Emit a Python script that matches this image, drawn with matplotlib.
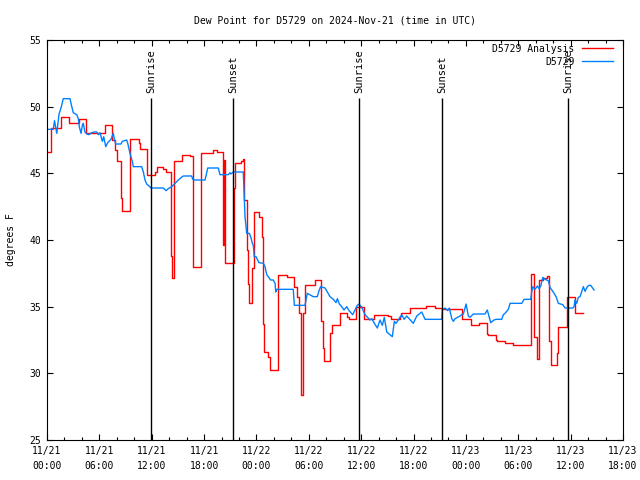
import numpy as np
import matplotlib
matplotlib.use("Agg")
import matplotlib.pyplot as plt
from matplotlib.ticker import MultipleLocator

# hours since 2024-11-21 00:00 UTC
analysis_hours = [0.0, 0.42, 1.60, 2.52, 3.70, 4.43, 6.65, 7.41, 7.79, 8.02, 8.48, 8.63,
                  9.51, 10.58, 10.69, 11.46, 12.38, 12.60, 13.33, 13.64, 14.17, 14.32,
                  14.55, 15.44, 16.39, 16.76, 17.61, 18.99, 19.45, 20.11, 20.28, 20.45,
                  21.37, 21.54, 22.20, 22.43, 22.63, 22.88, 23.07, 23.18, 23.49, 23.72,
                  24.33, 24.60, 24.79, 24.90, 25.36, 25.55, 26.47, 27.54, 28.34, 28.61,
                  28.88, 29.05, 29.11, 29.37, 29.56, 30.71, 31.40, 31.63, 31.74, 32.43,
                  32.62, 33.57, 34.41, 34.64, 35.41, 36.38, 37.47, 39.11, 39.42, 40.45,
                  40.57, 41.60, 43.43, 44.46, 45.26, 47.56, 48.59, 49.50, 50.39, 50.57,
                  51.45, 51.60, 52.48, 53.43, 55.41, 55.81, 56.12, 56.38, 56.84, 57.26,
                  57.56, 57.75, 58.41, 58.59, 59.62, 60.50, 61.39]
analysis_dew = [46.6, 48.4, 49.2, 48.8, 49.05, 48.0, 48.6, 47.5, 46.75, 45.9, 43.15, 42.2,
                47.55, 47.25, 46.8, 44.9, 45.1, 45.45, 45.3, 45.1, 38.8, 37.15,
                45.95, 46.4, 46.3, 38.0, 46.5, 46.75, 46.6, 39.6, 46.0, 38.25,
                43.9, 45.8, 45.9, 46.1, 43.0, 39.25, 36.7, 35.3, 37.9, 42.1,
                41.75, 40.25, 33.7, 31.6, 31.25, 30.25, 37.4, 37.25, 36.5, 35.75,
                34.5, 30.5, 28.4, 34.5, 36.6, 37.0, 33.9, 31.9, 30.9, 33.0,
                33.6, 34.5, 34.25, 34.1, 35.0, 34.05, 34.4, 34.3, 34.05, 34.3,
                34.55, 34.9, 35.05, 34.9, 34.8, 34.05, 33.6, 33.8, 32.95, 32.9,
                32.5, 32.45, 32.3, 32.1, 37.45, 32.75, 31.1, 37.0, 37.15, 37.3,
                32.4, 30.6, 31.5, 33.45, 35.7, 34.55, 34.55]

obs_hours = [0.0, 0.72, 0.86, 1.12, 1.38, 1.60, 1.87, 2.64, 2.75, 3.01, 3.40, 3.59, 3.70,
             3.90, 4.05, 4.16, 4.35, 4.55, 4.81, 5.12, 5.42, 5.70, 5.88, 6.07, 6.34, 6.50,
             6.73, 6.96, 7.33, 7.60, 7.71, 7.87, 8.48, 8.63, 9.13, 9.25, 9.51, 9.77, 9.89,
             10.85, 11.04, 11.23, 11.42, 11.69, 11.92, 13.33, 13.64, 13.90, 14.29, 14.67,
             15.05, 15.50, 15.62, 16.58, 16.70, 16.96, 18.11, 18.42, 19.63, 19.82, 20.78,
             20.97, 21.08, 21.35, 22.49, 22.69, 22.88, 23.18, 23.34, 23.53, 23.64, 23.75,
             23.95, 24.29, 24.79, 24.98, 25.18, 25.63, 25.93, 26.13, 26.21, 26.32, 28.22,
             28.34, 29.56, 29.83, 30.51, 30.97, 31.20, 31.36, 31.86, 32.12, 32.43, 32.81,
             33.12, 33.27, 33.50, 33.77, 34.03, 34.34, 34.61, 35.03, 35.56, 35.75, 36.06,
             36.44, 37.01, 37.21, 37.51, 37.85, 38.16, 38.42, 38.65, 38.93, 39.57, 39.80,
             39.99, 40.65, 40.91, 41.22, 41.97, 42.37, 42.94, 43.32, 45.23, 45.30, 45.61,
             45.92, 46.10, 46.38, 46.56, 46.76, 47.33, 47.52, 47.71, 48.02, 48.28, 48.47,
             48.85, 50.19, 50.45, 50.57, 50.84, 51.22, 51.45, 52.10, 52.29, 52.48, 52.86,
             53.06, 54.40, 54.58, 54.66, 55.43, 55.54, 55.66, 55.92, 56.19, 56.38, 56.58,
             56.81, 57.07, 57.45, 57.64, 58.10, 58.33, 58.59, 59.10, 59.36, 60.24, 60.39,
             60.50, 60.70, 60.88, 61.08, 61.46, 61.65, 61.92, 62.11, 62.30, 62.68]
obs_dew = [48.3, 48.3, 48.95, 48.0, 49.45, 49.9, 50.6, 50.6, 50.25, 49.55, 49.4, 49.1, 48.5,
           48.0, 48.6, 48.75, 48.1, 47.95, 47.9, 48.05, 48.1, 48.1, 47.9, 48.05, 47.4, 47.75,
           47.0, 47.3, 47.55, 48.0, 47.6, 47.2, 47.2, 47.4, 47.5, 47.25, 46.5, 45.9, 45.5,
           45.5, 45.1, 44.5, 44.2, 44.05, 43.9, 43.9, 43.7, 43.85, 44.0, 44.25,
           44.5, 44.75, 44.8, 44.8, 44.55, 44.5, 44.5, 45.4, 45.4, 44.9, 44.9,
           45.05, 44.95, 45.1, 45.1, 41.75, 40.5, 40.5, 40.25, 39.75, 39.6, 38.75,
           38.75, 38.3, 38.25, 38.0, 37.4, 37.0, 37.0, 36.75, 36.1, 36.3, 36.3,
           35.1, 35.1, 36.0, 35.75, 35.75, 36.25, 36.5, 36.4, 36.1, 35.75, 35.55,
           35.3, 35.6, 35.2, 35.0, 34.75, 35.0, 34.7, 34.4, 35.1, 35.2, 34.95,
           34.4, 34.0, 34.1, 33.75, 33.4, 34.0, 33.6, 34.2, 33.1, 32.75, 33.9,
           33.75, 34.4, 34.05, 34.3, 33.75, 34.3, 34.6, 34.05, 34.05, 34.75, 34.9,
           34.7, 34.9, 34.1, 33.9, 34.1, 34.3, 34.4, 34.45, 35.2, 34.3, 34.2,
           34.45, 34.45, 34.75, 34.45, 33.8, 34.0, 34.05, 34.05, 34.4, 34.5, 34.8,
           35.25, 35.25, 35.45, 35.55, 35.55, 36.1, 36.5, 36.3, 36.55, 36.35, 36.55,
           37.2, 37.05, 36.95, 36.45, 36.0, 35.75, 35.25, 35.15, 34.9, 34.9, 35.0,
           35.5, 35.25, 35.7, 35.75, 36.5, 36.15, 36.5, 36.6, 36.6, 36.25]

sun_hours = [11.92, 21.31, 35.75, 45.26, 59.70]
sun_labels = ["Sunrise", "Sunset", "Sunrise", "Sunset", "Sunrise"]

tick_hours = list(range(0, 67, 6))
tick_labels = ["11/21\n00:00", "11/21\n06:00", "11/21\n12:00", "11/21\n18:00",
               "11/22\n00:00", "11/22\n06:00", "11/22\n12:00", "11/22\n18:00",
               "11/23\n00:00", "11/23\n06:00", "11/23\n12:00", "11/23\n18:00"]

plt.rcParams['font.family'] = ['DejaVu Sans Mono']
fs = 7

fig = plt.figure(figsize=(6.4, 4.8), dpi=100)
ax = fig.add_axes([47 / 640, 40 / 480, 576 / 640, 400 / 480])

ax.plot(analysis_hours, analysis_dew, color='#ff0000', lw=1.0,
        drawstyle='steps-post', label='D5729 Analysis')
ax.plot(obs_hours, obs_dew, color='#0080ff', lw=1.0, label='D5729')

ax.vlines(sun_hours, 25, 50.65, color='black', lw=1.0)
for h, lab in zip(sun_hours, sun_labels):
    ax.text(h, 51.0, lab, rotation=90, ha='center', va='bottom', fontsize=7.5)

ax.set_xlim(0, 66)
ax.set_ylim(25, 55)
ax.set_xticks(tick_hours)
ax.set_xticklabels(tick_labels, linespacing=1.7)
ax.xaxis.set_minor_locator(MultipleLocator(2))
ax.yaxis.set_major_locator(MultipleLocator(5))
ax.tick_params(which='both', direction='in', top=True, right=True, labelsize=fs,
               width=0.8, color='black')
ax.tick_params(which='major', length=4.5, pad=4)
ax.tick_params(which='minor', length=2.5)
for s in ax.spines.values():
    s.set_linewidth(0.8)

ax.set_ylabel('degrees F', fontsize=fs, labelpad=10)
ax.set_title('Dew Point for D5729 on 2024-Nov-21 (time in UTC)', fontsize=fs, pad=12)

ax.legend(loc='upper right', frameon=False, fontsize=fs, markerfirst=False,
          handlelength=3.2, handletextpad=0.8, labelspacing=0.3,
          borderaxespad=0.0, bbox_to_anchor=(0.99, 1.0))

fig.savefig('out.png', dpi=100)
